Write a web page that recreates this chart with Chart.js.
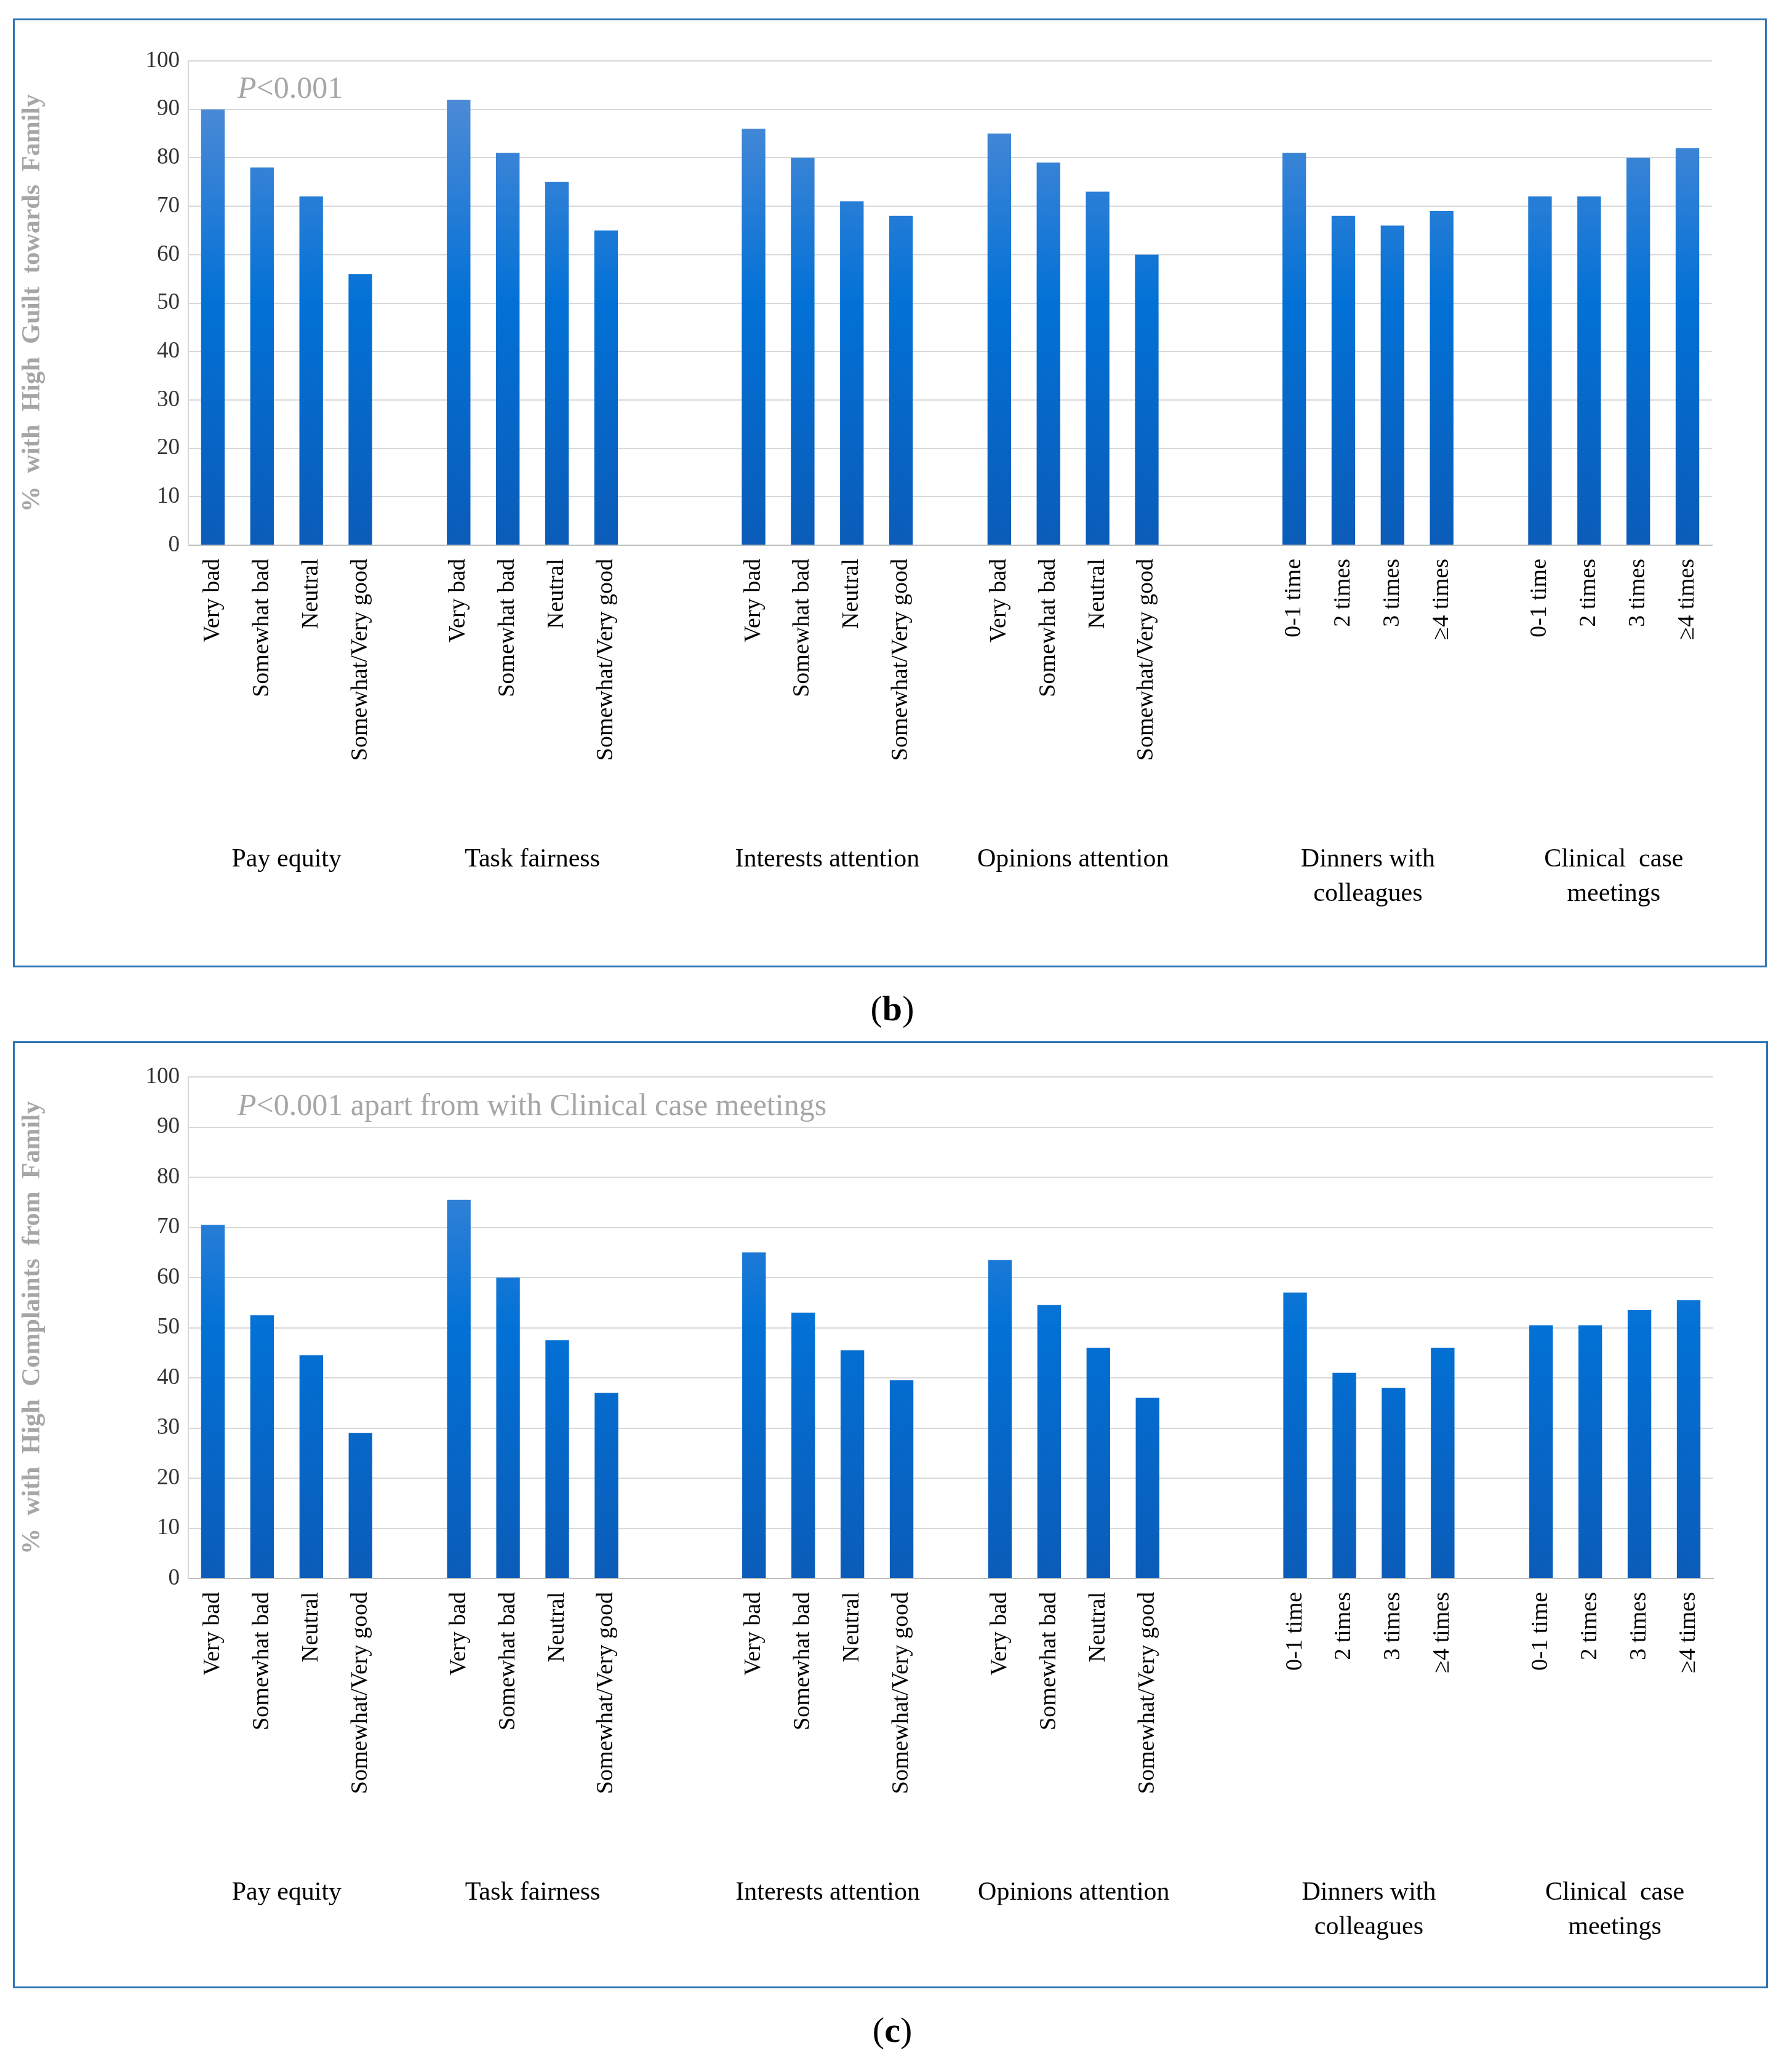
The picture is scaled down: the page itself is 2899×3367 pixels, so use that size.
<!DOCTYPE html>
<html><head><meta charset="utf-8">
<script src="https://cdn.jsdelivr.net/npm/chart.js@4/dist/chart.umd.min.js"></script>
<style>
body{margin:0;background:#fff;width:2899px;height:3367px;position:relative;font-family:"Liberation Serif",serif}
.box{position:absolute;border:3px solid #2e75b6;box-sizing:border-box}
.lab{position:absolute;font-size:58px;width:200px;text-align:center;color:#000}
</style></head><body>
<div class="box" id="bb" style="left:21px;top:30px;width:2850px;height:1542px"><canvas id="cb"></canvas></div>
<div class="lab" style="left:1350px;top:1605px">(<b>b</b>)</div>
<div class="box" id="bc" style="left:21px;top:1692px;width:2852px;height:1539px"><canvas id="cc"></canvas></div>
<div class="lab" style="left:1350px;top:3265px">(<b>c</b>)</div>
<script>
const groups=["Pay equity","Task fairness","Interests attention","Opinions attention",["Dinners with","colleagues"],["Clinical  case","meetings"]];
const attLabels=["Very bad","Somewhat bad","Neutral","Somewhat/Very good"];
const freqLabels=["0-1 time","2 times","3 times","≥4 times"];
const gaps=[1,2,1,2,1];
const guiltValues=[[90,78,72,56],[92,81,75,65],[86,80,71,68],[85,79,73,60],[81,68,66,69],[72,72,80,82]];
const complaintValues=[[70.5,52.5,44.5,29],[75.5,60,47.5,37],[65,53,45.5,39.5],[63.5,54.5,46,36],[57,41,38,46],[50.5,50.5,53.5,55.5]];

function build(vals){
  const labels=[],data=[],groupIdx=[];
  vals.forEach((g,i)=>{
    const tl=i<4?attLabels:freqLabels;
    const idx=[];
    g.forEach((v,j)=>{idx.push(labels.length);labels.push(tl[j]);data.push(v);});
    groupIdx.push(idx);
    if(i<gaps.length)for(let k=0;k<gaps[i];k++){labels.push("");data.push(null);}
  });
  return {labels,data,groupIdx};
}
function make(id,boxId,vals,yTitle,note,topPad,xH){
  const box=document.getElementById(boxId);
  const W=box.clientWidth,H=box.clientHeight;
  const cv=document.getElementById(id);cv.width=W;cv.height=H;cv.style.width=W+'px';cv.style.height=H+'px';
  const d=build(vals);
  const labelPlugin={id:'lp',afterDraw(ch){
    const c=ch.ctx,xs=ch.scales.x,bot=ch.chartArea.bottom;
    c.save();c.fillStyle='#000';c.font='38px "Liberation Serif"';
    d.labels.forEach((l,i)=>{if(!l)return;const x=xs.getPixelForValue(i);
      c.save();c.translate(x,bot+22);c.rotate(-Math.PI/2);c.textAlign='right';c.textBaseline='middle';c.fillText(l,0,0);c.restore();});
    c.font='42px "Liberation Serif"';c.textAlign='center';c.textBaseline='middle';
    d.groupIdx.forEach((idx,i)=>{const x=(xs.getPixelForValue(idx[0])+xs.getPixelForValue(idx[3]))/2;
      const g=groups[i];const lines=Array.isArray(g)?g:[g];
      lines.forEach((t,k)=>c.fillText(t,x,bot+511+k*56));});
    c.fillStyle='#a6a6a6';c.font='italic 50px "Liberation Serif"';c.textAlign='left';
    const x0=ch.chartArea.left+80,y0=ch.scales.y.getPixelForValue(94);
    c.fillText('P',x0,y0);const w=c.measureText('P').width;
    c.font='50px "Liberation Serif"';c.fillText(note,x0+w,y0);
    c.restore();}};
  new Chart(cv,{type:'bar',data:{labels:d.labels,datasets:[{data:d.data,
    backgroundColor(ctx){const a=ctx.chart.chartArea;if(!a)return '#0a6ad0';
      const g=ctx.chart.ctx.createLinearGradient(0,a.bottom,0,a.top);
      g.addColorStop(0,'#0b5cb8');g.addColorStop(0.5,'#0271d6');g.addColorStop(1,'#5b8fd6');return g;},
    barPercentage:0.48,categoryPercentage:1}]},
   options:{responsive:false,animation:false,devicePixelRatio:1,
    layout:{padding:{top:topPad,right:86,left:0,bottom:0}},
    plugins:{legend:{display:false},tooltip:{enabled:false}},
    scales:{
     x:{grid:{display:false},border:{color:'#bfbfbf',width:2},ticks:{display:false},afterFit(s){s.height=xH;}},
     y:{min:0,max:100,ticks:{stepSize:10,color:'#333',font:{size:37,family:'Liberation Serif'},padding:14},
        grid:{color:'#d9d9d9',lineWidth:2,drawTicks:false},border:{display:true,color:'#d9d9d9',width:2},
        title:{display:true,text:yTitle,color:'#a6a6a6',font:{size:42,weight:'bold',family:'Liberation Serif'},padding:{bottom:30}},
        afterFit(s){s.width=282;}}}},
   plugins:[labelPlugin]});
}
make('cb','bb',guiltValues,'%  with  High  Guilt  towards  Family','<0.001',66,683);
make('cc','bc',complaintValues,'%  with  High  Complaints  from  Family','<0.001 apart from with Clinical case meetings',55,663);
</script></body></html>
